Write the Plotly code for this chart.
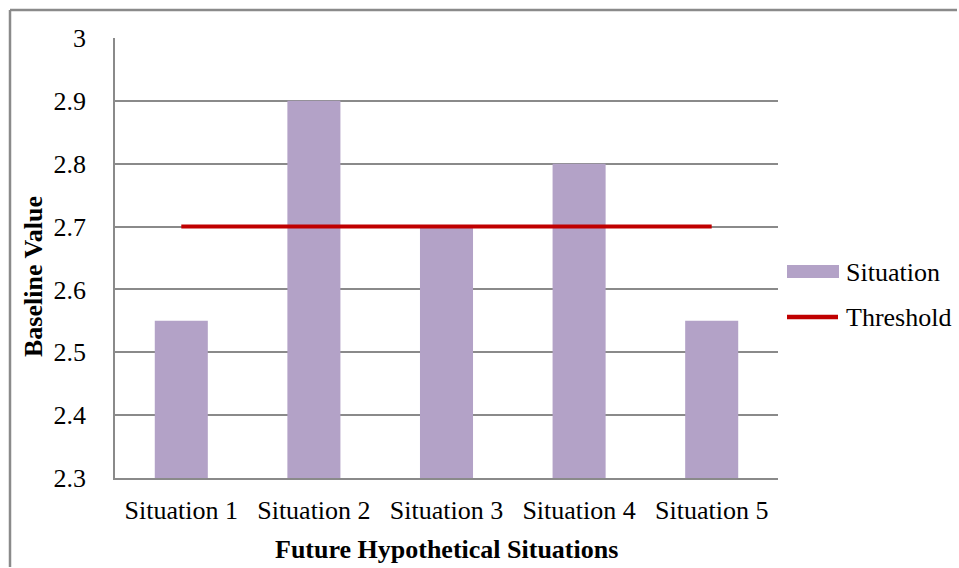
import plotly.graph_objects as go

# Chart data
categories = ["Situation 1", "Situation 2", "Situation 3", "Situation 4", "Situation 5"]
situation_values = [2.55, 2.9, 2.7, 2.8, 2.55]
threshold_values = [2.7, 2.7, 2.7, 2.7, 2.7]
y_tick_values = [2.3, 2.4, 2.5, 2.6, 2.7, 2.8, 2.9, 3.0]
y_tick_labels = ["2.3", "2.4", "2.5", "2.6", "2.7", "2.8", "2.9", "3"]

W, H = 959, 568
L, R, T, B = 115, 181, 38, 90
PW, PH = W - L - R, H - T - B

FONT = "Liberation Serif, Times New Roman, serif"
BAR_COLOR = "#B3A2C7"
LINE_COLOR = "#C00000"
GRID_COLOR = "#8A8A8A"
TXT = dict(family=FONT, size=26, color="#000")


def px_x(px):
    return (px - L) / PW


def px_y(py):
    return (H - B - py) / PH


fig = go.Figure()
fig.add_trace(go.Bar(
    x=categories, y=situation_values, name="Situation",
    marker=dict(color=BAR_COLOR, line=dict(width=0)),
    showlegend=False,
))
fig.add_trace(go.Scatter(
    x=categories, y=threshold_values, name="Threshold", mode="lines",
    line=dict(color=LINE_COLOR, width=4),
    showlegend=False,
))

frame = dict(color="#8A8A8A", width=2.5)
shapes = [
    # outer chart frame: top edge and left edge
    dict(type="line", xref="paper", yref="paper", layer="above",
         x0=px_x(10), x1=px_x(W - 2), y0=px_y(10), y1=px_y(10), line=frame),
    dict(type="line", xref="paper", yref="paper", layer="above",
         x0=px_x(10), x1=px_x(10), y0=px_y(10), y1=px_y(H - 1), line=frame),
    # legend swatches
    dict(type="rect", xref="paper", yref="paper",
         x0=px_x(787), x1=px_x(839), y0=px_y(278), y1=px_y(265),
         line=dict(width=0), fillcolor=BAR_COLOR),
    dict(type="line", xref="paper", yref="paper",
         x0=px_x(787), x1=px_x(838), y0=px_y(317), y1=px_y(317),
         line=dict(color=LINE_COLOR, width=4.5)),
]

annotations = [
    dict(text="Situation", xref="paper", yref="paper", x=px_x(844), y=px_y(272),
         xanchor="left", yanchor="middle", showarrow=False, font=TXT),
    dict(text="Threshold", xref="paper", yref="paper", x=px_x(844), y=px_y(317),
         xanchor="left", yanchor="middle", showarrow=False, font=TXT),
    dict(text="<b>Future Hypothetical Situations</b>", xref="paper", yref="paper",
         x=0.5, y=px_y(549), xanchor="center", yanchor="middle", showarrow=False, font=TXT),
    dict(text="<b>Baseline Value</b>", xref="paper", yref="paper",
         x=px_x(33), y=px_y(277), xanchor="center", yanchor="middle", showarrow=False,
         textangle=-90, font=TXT),
]

fig.update_layout(
    width=W, height=H,
    margin=dict(l=L, r=R, t=T, b=B),
    paper_bgcolor="white", plot_bgcolor="white",
    font=TXT,
    bargap=0.6,
    shapes=shapes, annotations=annotations,
    showlegend=False,
)
fig.update_xaxes(
    type="category", showgrid=False, showline=True, linecolor=GRID_COLOR, linewidth=1.5,
    ticks="", ticklabelstandoff=8, tickfont=TXT,
)
fig.update_yaxes(
    range=[2.3, 3.0], tickvals=y_tick_values, ticktext=y_tick_labels,
    showgrid=True, gridcolor=GRID_COLOR, gridwidth=1.5,
    showline=True, linecolor=GRID_COLOR, linewidth=1.5, zeroline=False,
    ticks="", ticklabelstandoff=22, tickfont=TXT,
)

fig.write_html("out.html")
